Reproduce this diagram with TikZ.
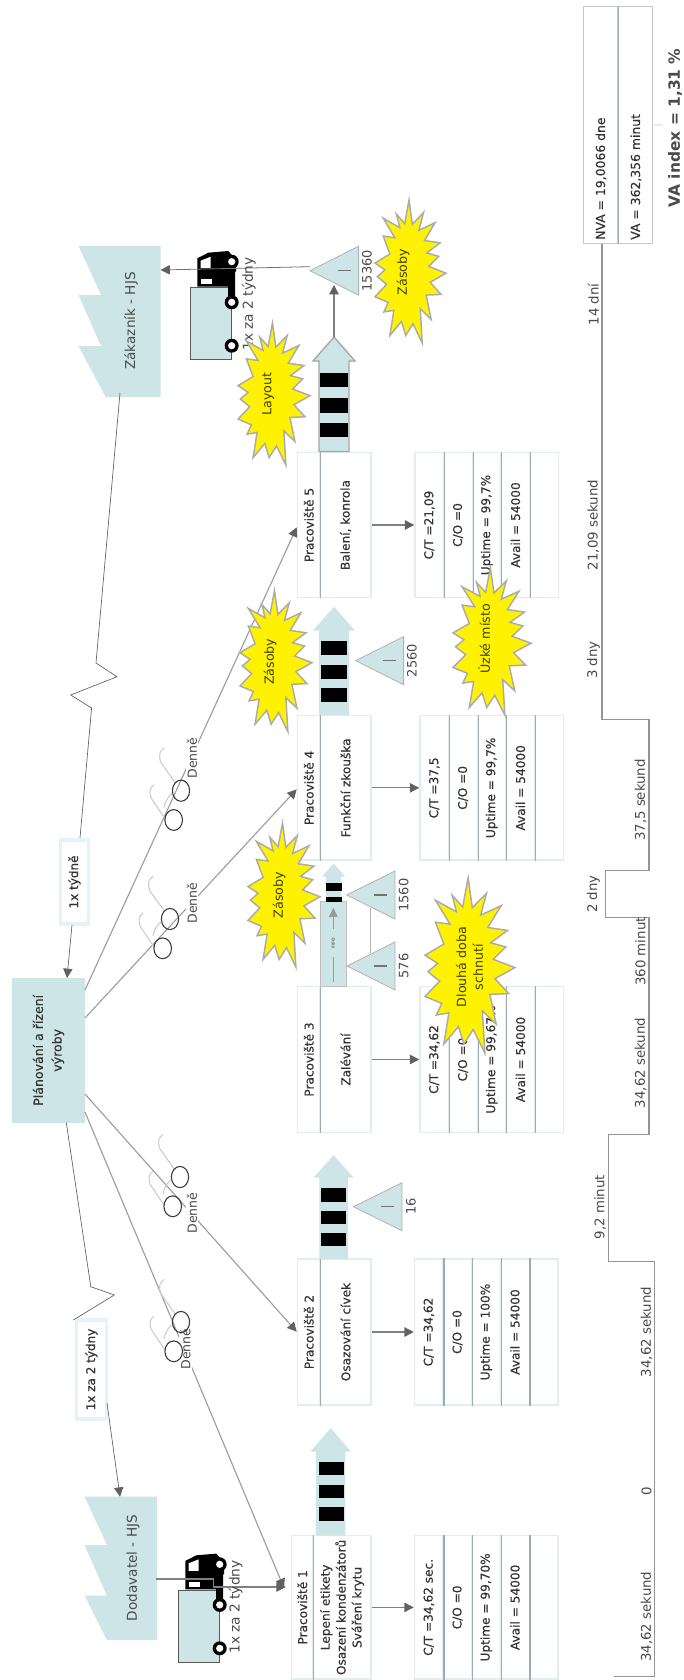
\documentclass[tikz,border=0pt]{standalone}
\usepackage{fontspec}
\setmainfont{DejaVu Sans}
\newfontfamily\medfont[FakeBold=0.35]{DejaVu Sans}
\usetikzlibrary{arrows.meta,calc}
\definecolor{pale}{HTML}{CDE5E7}
\definecolor{edgepale}{HTML}{DFEEF1}
\definecolor{tagedge}{HTML}{E4F3FA}
\definecolor{divline}{HTML}{9CABB8}
\definecolor{txt}{HTML}{4A4A4A}
\definecolor{txtdark}{HTML}{333333}
\definecolor{burstedge}{HTML}{ABABAB}
\definecolor{bursttxt}{HTML}{3F3F00}
\tikzset{
  txtn/.style={rotate=90,text=txt,font=\fontsize{10.2}{12}\selectfont,inner sep=0pt},
  boldn/.style={rotate=90,text=txtdark,font=\fontsize{9.3}{11.5}\selectfont\medfont,inner sep=0pt,align=center},
  cellbox/.style={draw=edgepale,line width=1.1pt,fill=white,rotate=90,inner sep=0pt,text=txtdark,align=center,font=\fontsize{9.1}{11.9}\selectfont\medfont},
  divider/.style={draw=divline,line width=.95pt},
  thinline/.style={draw=black!62,line width=.5pt},
  midline/.style={draw=black!38,line width=.85pt},
  darkline/.style={draw=black!50,line width=.95pt},
  arrowhead/.style={-{Triangle[length=7pt,width=7pt,color=black!62]}},
  burstshape/.style={fill=yellow,draw=burstedge,line width=1.1pt,line join=miter,miter limit=10},
  bursttext/.style={rotate=90,text=bursttxt,font=\fontsize{9.5}{12.5}\selectfont,inner sep=0pt,align=center},
  trishape/.style={fill=pale,draw=black!30,line width=.6pt},
  trimark/.style={draw=black!55,line width=1.1pt},
  hook/.style={draw=black!20,line width=.8pt},
  glass/.style={draw=black!78,line width=.8pt},
  factory/.style={fill=pale,draw=none},
  labelwhite/.style={txtn,fill=white,font=\fontsize{9.4}{12}\selectfont},
  tagbox/.style={draw=tagedge,line width=2.3pt,fill=white,rotate=90,inner sep=0pt,text=txtdark,font=\fontsize{9}{11}\selectfont\medfont},
  timelab/.style={txtn,font=\fontsize{10}{12}\selectfont},
  tline/.style={draw=black!42,line width=.95pt,line join=miter},
}
% name, x1, x2, y1, y2, text
\newcommand{\cellmk}[6]{\node[cellbox,minimum width={((#5)-(#4))*0.75pt},minimum height={((#3)-(#2))*0.75pt}] (#1) at ({((#2)+(#3))/2},{((#4)+(#5))/2}) {#6};}
% name, x0, y1, y2, four texts
\newcommand{\datamk}[8]{%
  \cellmk{#1a}{#2}{#2+28.7}{#3}{#4}{#5}
  \cellmk{#1b}{#2+28.7}{#2+57.4}{#3}{#4}{#6}
  \cellmk{#1c}{#2+57.4}{#2+86.1}{#3}{#4}{#7}
  \cellmk{#1d}{#2+86.1}{#2+114.8}{#3}{#4}{#8}
  \cellmk{#1e}{#2+114.8}{#2+143.5}{#3}{#4}{}
  \draw[divider] (#1a.south west) -- (#1a.south east);
  \draw[divider] (#1b.south west) -- (#1b.south east);
  \draw[divider] (#1c.south west) -- (#1c.south east);
  \draw[divider] (#1d.south west) -- (#1d.south east);
}
% name, y1, y2, head text, body text
\newcommand{\procmk}[5]{%
  \cellmk{#1h}{297.5}{320}{#2}{#3}{#4}
  \cellmk{#1b}{320}{371}{#2}{#3}{#5}
  \draw[divider] (#1h.south west) -- (#1h.south east);
}
% cx, cy, w, h
\newcommand{\burstmk}[4]{%
  \begin{scope}[shift={(#1,#2)},xscale={#3/215},yscale={#4/424}]
  \draw[burstshape] (-4.5,-212)--(5.5,-140)--(39.5,-175)--(25.5,-122)--(74.5,-145)--(42.5,-92)--(89.5,-85)--(49.5,-55)--(85.5,-45)--(55.5,-15)--(107.5,5)--(59.5,32)--(92.5,68)--(47.5,70)--(62.5,142)--(29.5,110)--(35.5,212)--(7.5,155)--(-14.5,190)--(-27.5,148)--(-62.5,190)--(-50.5,115)--(-80.5,120)--(-67.5,92)--(-107.5,75)--(-72.5,38)--(-100.5,15)--(-77.5,-5)--(-107.5,-25)--(-62.5,-52)--(-82.5,-105)--(-47.5,-100)--(-82.5,-158)--(-32.5,-130)--(-42.5,-170)--(-17.5,-142)--cycle;
  \end{scope}}
% cx cy of the first circle
\newcommand{\glassmk}[2]{%
  \begin{scope}[shift={(#1,#2)}]
  \draw[hook] (-16.7,-42.7) .. controls (-21,-40) and (-23,-36) .. (-20,-28) -- (-5,-7);
  \draw[hook] (-27,-6) .. controls (-31,-3) and (-32,1) .. (-30,7) -- (-16,28);
  \draw[hook] (-9,3) .. controls (-12,5) and (-16,10) .. (-17,17);
  \draw[glass] (0,0) ellipse [x radius=8.6,y radius=10.6];
  \draw[glass] (-7.3,29.3) ellipse [x radius=8.8,y radius=10.4];
  \end{scope}}
% tipx, y, basex, half, label, labelx
\newcommand{\trimk}[6]{%
  \draw[trishape] (#1,#2) -- (#3,{#2-#4}) -- (#3,{#2+#4}) -- cycle;
  \draw[trimark] ({#3-21},#2) -- ({#3-8},#2);
  \node[txtn,font=\fontsize{9.7}{12}\selectfont] at (#6,#2) {#5};
}
% cx, tipy, basey, bottomy, shaft half, head half
\newcommand{\pushmk}[6]{%
  \path[fill=pale] (#1,#2) -- ({#1+#6},#3) -- ({#1+#5},#3) -- ({#1+#5},#4) -- ({#1-#5},#4) -- ({#1-#5},#3) -- ({#1-#6},#3) -- cycle;
}
% x1 x2 y1 y2
\newcommand{\barmk}[4]{\fill[black] (#1,#3) rectangle (#2,#4);}
% dx dy of truck origin (top left of trailer)
\newcommand{\truckmk}[2]{%
  \begin{scope}[shift={(#1,#2)}]
  \draw[fill=pale,draw=black!65,line width=.6pt] (0,0) rectangle (41.7,71.6);
  \fill[black] (7.3,-29.4) -- (18.3,-35) -- (38.3,-36.7) -- (46,-27.7) -- (46,-16) -- (45,-16) -- (45,12) -- (38,12) -- (38,-1) -- (7.3,-1) -- cycle;
  \fill[white] (10.7,-27) -- (20.7,-31) -- (20.7,-19.5) -- (10.7,-19.5) -- cycle;
  \fill[white] (10.7,-8.5) rectangle (21.7,-3.5);
  \foreach \wy in {-26,14.6,58}{
    \fill[black] (41.7,\wy) circle [radius=7];
    \fill[white] (41.7,\wy) circle [radius=3.6];
  }
  \end{scope}}
\begin{document}
\begin{tikzpicture}[x=0.75pt,y=-0.75pt]
\useasboundingbox (0,0) rectangle (684,1680);
\fill[white] (0,0) rectangle (684,1680);

% factories
\path[factory] (78.5,246) -- (160.5,246) -- (160.5,397) -- (105.6,397) -- (78.5,346) -- (101,346) -- (78.5,295) -- (101,295) -- cycle;
\path[factory] (84.6,1496.7) -- (157,1496.7) -- (157,1640) -- (106.9,1640) -- (84.6,1595.7) -- (106.9,1595.7) -- (84.6,1545) -- (106.9,1545) -- cycle;
\node[txtn] (custtext) at (131,321) {Zákazník - HJS};
\node[txtn] (supptext) at (133,1568) {Dodavatel - HJS};
\coordinate (custtop) at (160.5,270);
\coordinate (custbot) at (120,393);
\coordinate (supptop) at (120,1496.7);
\coordinate (suppout) at (156,1579);

% planning box and tags
\node[fill=pale,minimum width={144.7*0.75pt},minimum height={73*0.75pt},rotate=90,inner sep=0pt,text=txtdark,align=center,font=\fontsize{9.4}{14}\selectfont\medfont] (plan) at (48.5,1050.3) {Plánování a řízení\\výroby};
\node[tagbox,minimum width={84*0.75pt},minimum height={28*0.75pt}] (tagw) at (74.5,882) {1x týdně};
\node[tagbox,minimum width={99*0.75pt},minimum height={30*0.75pt}] (tagb) at (91.5,1369.5) {1x za 2 týdny};

% zigzags
\draw[thinline] (custbot) -- (96,663) -- (117,676.7) -- (70.7,695) -- (91.6,708) -- (80,838);
\draw[thinline] (66.3,1122.7) -- (90.8,1286.7) -- (114.3,1295) -- (73.3,1320);
\coordinate (tagwout) at (72,925);
\coordinate (plantop) at (67,978);
\coordinate (tagbout) at (107,1403);
\draw[thinline,arrowhead] (tagwout) -- (plantop);
\draw[thinline,arrowhead] (tagbout) -- (supptop);

% trucks
\truckmk{190}{287.7}
\truckmk{178}{1590.3}

% process boxes
\procmk{pfive}{452.7}{597.3}{Pracoviště 5}{Balení, konrola}
\procmk{pfour}{715.7}{860}{Pracoviště 4}{Funkční zkouška}
\procmk{pthree}{986.7}{1132.3}{Pracoviště 3}{Zalévání}
\procmk{ptwo}{1259}{1405}{Pracoviště 2}{Osazování cívek}
\cellmk{poneh}{291.5}{313}{1535.7}{1679}{Pracoviště 1}
\cellmk{poneb}{313}{371}{1535.7}{1679}{Lepení etikety\\Osazení kondenzátorů\\Sváření krytu}
\draw[divider] (poneh.south west) -- (poneh.south east);

% data boxes
\datamk{dfive}{415}{452.7}{597.3}{C/T =21,09}{C/O =0}{Uptime = 99,7\%}{Avail = 54000}
\datamk{dfour}{420}{715.7}{860}{C/T =37,5}{C/O =0}{Uptime = 99,7\%}{Avail = 54000}
\datamk{dthree}{420}{986.7}{1132.3}{C/T =34,62}{C/O =0}{Uptime = 99,67\%}{Avail = 54000}
\datamk{dtwo}{414.5}{1259}{1405}{C/T =34,62}{C/O =0}{Uptime = 100\%}{Avail = 54000}
\datamk{done}{414.5}{1535.7}{1679}{C/T =34,62 sec.}{C/O =0}{Uptime = 99,70\%}{Avail = 54000}

\foreach \a/\b in {pfiveb/dfivea,pfourb/dfoura,pthreeb/dthreea,ptwob/dtwoa,poneb/donea}
  \draw[darkline,arrowhead] (\a.south) -- (\b.north);

% push arrows
\pushmk{334}{337}{361}{451.5}{15}{21}
\path[draw=black!35,line width=1pt,line join=miter] (334,337) -- (355,361) -- (349,361) -- (349,451.5) -- (319,451.5) -- (319,361) -- (313,361) -- cycle;
\barmk{320}{348}{372.7}{387.3}
\barmk{320}{348}{398.3}{413.3}
\barmk{320}{348}{422.7}{437.3}

\pushmk{334}{606.7}{630.7}{715}{15}{21}
\barmk{320.7}{347.3}{641}{655}
\barmk{320.7}{347.3}{665}{679}
\barmk{320.7}{347.3}{687.7}{702}

\pushmk{333.6}{1155}{1177.7}{1259}{14.3}{20}
\barmk{320.7}{346}{1187.7}{1201.7}
\barmk{320.7}{346}{1210.7}{1224}
\barmk{320.7}{346}{1232.7}{1246}

\pushmk{330.7}{1428}{1451.7}{1535.7}{14.6}{20.3}
\barmk{318.5}{343.8}{1461.7}{1475}
\barmk{318.5}{343.8}{1485}{1498}
\barmk{318.5}{343.8}{1507}{1520.7}

% FIFO lane
\pushmk{333.6}{863.3}{876.7}{902}{7.5}{11.5}
\draw[fill=pale,draw=black!25,line width=.7pt] (320,901.7) rectangle (346.7,986.7);
\barmk{326}{341.7}{883.3}{890.7}
\barmk{326}{341.7}{897.3}{902.3}
\coordinate (fifotop) at (333.3,929);
\coordinate (fifotip) at (333.3,907.7);
\draw[draw=black!40,line width=.5pt,-{Triangle[length=7pt,width=6.5pt,color=black!40]}] (fifotop) -- (fifotip);
\coordinate (fifobota) at (333.3,956.7);
\coordinate (fifobotb) at (333.3,981.7);
\draw[draw=black!40,line width=.5pt] (fifobota) -- (fifobotb);
\node[rotate=90,text=black!55,font=\fontsize{3.2}{4}\selectfont\bfseries,inner sep=0pt] (fifolabel) at (333.3,943) {FIFO};

% inventory triangles
\draw[draw=black!30,line width=.9pt] (370.7,908) -- (370.7,953);
\trimk{310}{270.7}{358.6}{24.5}{15360}{367}
\trimk{355.6}{660.7}{403.6}{24}{2560}{412}
\trimk{346.7}{895}{395}{24}{1560}{403.6}
\trimk{347}{966}{395}{24}{576}{403.6}
\trimk{353.4}{1206.7}{402}{24}{16}{411}

% material connectors
\coordinate (push5tip) at (334,337);
\coordinate (tri5in) at (334,285);
\coordinate (tri5out) at (310,266.7);
\draw[darkline,arrowhead] (push5tip) -- (tri5in);
\draw[thinline,draw=black!55,line width=.6pt,arrowhead] (tri5out) -- (custtop);
\coordinate (elb) at (213.8,1579);
\coordinate (elc) at (213.8,1587);
\coordinate (pone) at (285.8,1587);
\draw[darkline,arrowhead] (suppout) -- (elb) -- (elc) -- (pone);

% information connectors
\coordinate (pla) at (85,990);
\coordinate (plb) at (85,1018);
\coordinate (plc) at (85,1094);
\coordinate (pld) at (85,1112);
\coordinate (tofive) at (296.7,527.3);
\coordinate (tofour) at (296.7,789.3);
\coordinate (totwo) at (296.7,1331.7);
\coordinate (toone) at (284,1588);
\draw[midline,arrowhead] (pla) -- (tofive);
\draw[midline,arrowhead] (plb) -- (tofour);
\draw[midline,arrowhead] (plc) -- (totwo);
\draw[midline,arrowhead] (pld) -- (toone);

\node[labelwhite,inner sep=1pt] (daya) at (192,758) {Denně};
\node[labelwhite,inner sep=1pt] (dayb) at (192,903) {Denně};
\node[labelwhite,inner sep=1pt] (dayc) at (192,1213) {Denně};
\node[labelwhite,inner sep=1pt] (dayd) at (185.4,1349) {Denně};
\glassmk{181}{790.7}
\glassmk{170}{919}
\glassmk{180}{1177}
\glassmk{181}{1322}

\node[txtn,font=\fontsize{10.3}{12}\selectfont] (truckatext) at (248.7,304) {1x za 2 týdny};
\node[txtn,font=\fontsize{10.3}{12}\selectfont] (truckbtext) at (235.6,1607) {1x za 2 týdny};

% timeline
\draw[tline] (614.3,1676.7) -- (654.5,1676.7) -- (654.5,1261.7) -- (608.6,1261.7) -- (608.6,1134.3) -- (649,1134.3) -- (649,917.3) -- (605.6,917.3) -- (605.6,870.7) -- (649,870.7) -- (649,719.3) -- (602,719.3) -- (602,243.3);
\node[timelab] (tla) at (646.6,1616.7) {34,62 sekund};
\node[timelab] (tlb) at (646.6,1491.7) {0};
\node[timelab] (tlc) at (646.6,1332) {34,62 sekund};
\node[timelab] (tld) at (600,1207) {9,2 minut};
\node[timelab] (tle) at (640.5,1063) {34,62 sekund};
\node[timelab] (tlf) at (640.5,951.5) {360 minut};
\node[timelab] (tlg) at (593.4,894) {2 dny};
\node[timelab] (tlh) at (640.5,800) {37,5 sekund};
\node[timelab] (tli) at (593.4,660) {3 dny};
\node[timelab] (tlj) at (593.4,525) {21,09 sekund};
\node[timelab] (tlk) at (593.4,304.5) {14 dní};

% summary
\node[draw=black!22,line width=.9pt,rotate=90,inner sep=0pt,minimum width={236.6*0.75pt},minimum height={34.7*0.75pt}] (sumnva) at (600.7,125) {};
\node[draw=black!22,line width=.9pt,rotate=90,inner sep=0pt,minimum width={236.6*0.75pt},minimum height={34.3*0.75pt}] (sumva) at (635.2,125) {};
\draw[divider] (sumnva.south west) -- (sumnva.south east);
\node[boldn,anchor=west] (nvatext) at (601,240) {NVA = 19,0066 dne};
\node[boldn,anchor=west] (vatext) at (636,240) {VA = 362,356 minut};
\node[boldn,text=txt,font=\fontsize{11.6}{14}\selectfont\bfseries] (vaindex) at (675,128) {VA index = 1,31 \%};
\coordinate (ticka) at (654,125);
\coordinate (tickb) at (663,125);
\draw[draw=black!8,line width=.8pt] (ticka) -- (tickb);

% bursts
\burstmk{410.5}{271.5}{71}{143}
\node[bursttext] (bza) at (403,272) {Zásoby};
\burstmk{274}{394}{72}{142}
\node[bursttext] (blay) at (268,394) {Layout};
\burstmk{276}{661}{72}{141}
\node[bursttext] (bzb) at (270,661.7) {Zásoby};
\burstmk{492}{641.5}{78}{147}
\node[bursttext] (buz) at (484,639) {Úzké místo};
\burstmk{284}{895}{72}{144}
\node[bursttext] (bzc) at (279,895) {Zásoby};
\burstmk{470}{965.5}{90}{175}
\node[bursttext,font=\fontsize{9.5}{12.7}\selectfont] (bdl) at (469.5,967) {Dlouhá doba\\schnutí};
\end{tikzpicture}
\end{document}
